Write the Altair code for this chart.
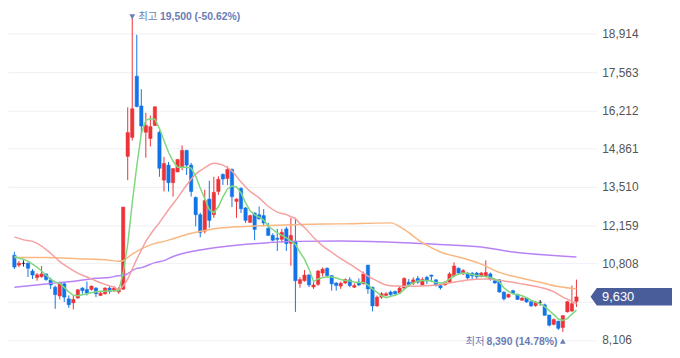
import altair as alt
import pandas as pd

# ---- daily candles (KRW), oldest first ----
opens = [11100, 10750, 10810, 10820, 10540, 10310, 10340, 10440, 10230, 9970,
         9660, 10090, 9560, 9420, 9590, 9940, 9890, 9890, 9940, 9680,
         9740, 9940, 9850, 9800, 9900, 14590, 15260, 17420, 16370, 15440,
         15220, 15680, 15440, 13750, 14280, 13660, 14040, 14220, 14800, 14280,
         13140, 12530, 11950, 13080, 12530, 13350, 13950, 13810, 14130, 13000,
         13460, 12770, 12260, 12590, 12530, 12500, 12050, 11800, 11700, 11660,
         12030, 11520, 11600, 10100, 10200, 10400, 9980, 10070, 10470, 10640,
         10380, 10120, 10010, 10120, 10230, 9970, 10150, 10090, 10750, 9970,
         9310, 9620, 9680, 9800, 9820, 9770, 9940, 10150, 10110, 10280,
         10050, 10320, 10400, 10230, 10030, 10050, 10150, 10370, 10640, 10440,
         10470, 10460, 10470, 10350, 10350, 10440, 10200, 10230, 9800, 9620,
         9850, 9720, 9510, 9590, 9460, 9320, 9440, 9350, 8990, 8660,
         8770, 8550, 9100, 9130, 9470]
highs = [11220, 10900, 10920, 10840, 10610, 10470, 10720, 10460, 10310, 10030,
         10170, 10150, 9680, 9680, 9910, 9970, 10170, 10030, 9970, 9800,
         9970, 10010, 10010, 9970, 12800, 16320, 19500, 18880, 16960, 16130,
         16030, 16360, 15500, 14570, 14390, 14170, 14490, 14980, 14820, 14360,
         13170, 12600, 13410, 13730, 13870, 13890, 13990, 14240, 14160, 13110,
         13500, 12800, 12530, 12610, 12820, 12730, 12240, 11870, 12030, 12030,
         12100, 12420, 12420, 10320, 10580, 10440, 10160, 10580, 10670, 10670,
         10400, 10150, 10170, 10280, 10320, 10110, 10280, 10520, 10760, 9990,
         9680, 9800, 9800, 9850, 9850, 10010, 10320, 10260, 10320, 10370,
         10320, 10370, 10410, 10260, 10090, 10170, 10500, 10850, 10670, 10610,
         10500, 10510, 10510, 10510, 10920, 10490, 10260, 10260, 9820, 9740,
         9880, 9740, 9620, 9600, 9490, 9490, 9520, 9390, 9000, 8870,
         8790, 8980, 9490, 10030, 10240]
lows = [10610, 10680, 10700, 10330, 10260, 10200, 10310, 10200, 9910, 9210,
        9540, 9450, 9240, 9190, 9560, 9740, 9680, 9850, 9620, 9660,
        9710, 9740, 9800, 9740, 9880, 13750, 15150, 16320, 15360, 14540,
        14940, 15660, 13870, 13350, 13350, 13170, 14030, 14100, 13930, 13170,
        12120, 11730, 11870, 12070, 12420, 13230, 13580, 13580, 12800, 12420,
        12590, 12240, 12240, 11630, 12360, 12120, 11780, 11590, 11250, 11540,
        11250, 10730, 9100, 9950, 10170, 9980, 9910, 10020, 10350, 10320,
        9850, 9850, 9910, 10090, 9970, 9940, 10010, 10070, 9740, 9120,
        9280, 9560, 9650, 9620, 9680, 9740, 9910, 10030, 10050, 10090,
        10030, 10080, 10150, 10000, 9890, 10030, 10120, 10320, 10400, 10400,
        10240, 10260, 10260, 10320, 10320, 10200, 10090, 9780, 9500, 9600,
        9720, 9520, 9490, 9420, 9280, 9280, 9320, 8970, 8590, 8620,
        8460, 8390, 9080, 9100, 9270]
closes = [10680, 10820, 10810, 10640, 10400, 10410, 10440, 10240, 10050, 9710,
          10120, 9620, 9350, 9540, 9880, 9850, 9760, 10010, 9740, 9760,
          9940, 9820, 9940, 9890, 12800, 15430, 16270, 16350, 15660, 15680,
          15640, 16340, 14170, 14340, 13660, 14160, 14480, 14800, 14280, 13350,
          12530, 11900, 13030, 12330, 13320, 13780, 13790, 14130, 13170, 13080,
          12740, 12330, 12500, 12010, 12380, 12240, 11800, 11630, 11660, 11910,
          11510, 11800, 10200, 10240, 10400, 10050, 10050, 10540, 10610, 10380,
          10090, 10030, 10110, 10240, 10030, 10030, 10050, 10440, 9910, 9310,
          9620, 9740, 9740, 9710, 9740, 9940, 10280, 10060, 10230, 10150,
          10240, 10190, 10360, 10030, 9950, 10150, 10440, 10720, 10470, 10560,
          10300, 10370, 10340, 10470, 10490, 10260, 10120, 9800, 9560, 9720,
          9750, 9540, 9590, 9450, 9310, 9440, 9440, 8980, 8630, 8830,
          8520, 8970, 9460, 9390, 9630]

# ---- moving averages ----
ma5 = [11065, 10995, 10960, 10890, 10786, 10681, 10541, 10401, 10244, 10157,
       10104, 9965, 9808, 9685, 9668, 9703, 9738, 9773, 9808, 9825,
       9832, 9842, 9842, 9842, 10480, 11484, 12950, 14250, 15396, 15868,
       15920, 15903, 15571, 15152, 14733, 14418, 14209, 14209, 14209, 14174,
       13894, 13475, 13091, 12707, 12602, 12811, 13161, 13440, 13545, 13510,
       13300, 12951, 12672, 12532, 12445, 12340, 12130, 12008, 11886, 11798,
       11711, 11606, 11484, 11205, 10960, 10611, 10174, 10262, 10314, 10332,
       10332, 10297, 10244, 10209, 10192, 10157, 10140, 10140, 10052, 9912,
       9790, 9668, 9598, 9650, 9685, 9755, 9895, 10034, 10122, 10192,
       10209, 10209, 10192, 10140, 10122, 10140, 10262, 10366, 10436, 10471,
       10454, 10419, 10384, 10366, 10349, 10314, 10262, 10157, 9947, 9825,
       9738, 9703, 9668, 9598, 9511, 9441, 9388, 9284, 9144, 9004,
       8847, 8795, 8864, 9022, 9161]
ma20_idx = [0, 2, 4, 6, 8, 10, 12, 14, 16, 18, 20, 22, 23, 24, 25, 26, 27, 28, 29, 30,
            32, 34, 36, 38, 40, 42, 44, 46, 48, 50, 52, 54, 56, 58, 60, 61, 62, 63, 64, 66,
            68, 70, 72, 74, 76, 78, 80, 82, 84, 88, 92, 96, 100, 104, 108, 112, 116, 119, 121, 123, 124]
ma20 = [11746, 11641, 11589, 11425, 11170, 10873, 10656, 10471, 10332, 10192,
        10070, 9965, 9895, 10017, 10262, 10611, 10960, 11275, 11589, 11833,
        12253, 12707, 13126, 13580, 13964, 14191, 14348, 14279, 14069, 13685,
        13353, 13126, 12829, 12619, 12532, 12462, 12392, 12218, 12078, 11729,
        11432, 11205, 10978, 10786, 10576, 10366, 10192, 10052, 10017, 10007,
        10028, 10122, 10227, 10262, 10192, 10087, 9965, 9808, 9622, 9476, 9388]
ma60_idx = [0, 7, 14, 21, 23, 24, 25, 26, 28, 31, 33, 35, 38, 42, 46, 49, 56, 63, 72, 83,
            86, 90, 94, 99, 103, 107, 111, 116, 120, 124]
ma60 = [11020, 11020, 10978, 10925, 10890, 10908, 11020, 11135, 11327, 11519,
        11589, 11683, 11833, 11973, 12067, 12102, 12148, 12183, 12207, 12242,
        12008, 11543, 11215, 10995, 10786, 10495, 10321, 10146, 9993, 9912]
ma120_idx = [0, 7, 14, 18, 21, 23, 24, 27, 28, 31, 33, 35, 38, 42, 49, 56, 62, 72, 86, 93,
             103, 110, 118, 124]
ma120 = [9972, 10087, 10202, 10286, 10314, 10377, 10384, 10635, 10663, 10838,
         10908, 11055, 11194, 11310, 11449, 11543, 11589, 11599, 11543, 11484,
         11390, 11215, 11100, 11041]

y_ticks = [8106, 9457, 10808, 12159, 13510, 14861, 16212, 17563, 18914]

# ---- styling ----
RED, BLUE, FLAT = "#ec3338", "#1274e8", "#222222"
ANN = "#6b7db4"
BADGE = "#4a5d9b"
FONT = "Liberation Sans, Noto Sans CJK KR, sans-serif"
KFONT = "Noto Sans CJK KR, Liberation Sans, sans-serif"

n = len(closes)
idx = list(range(n))
cdf = pd.DataFrame({"i": idx, "o": opens, "h": highs, "l": lows, "c": closes})
cdf["bot"] = cdf[["o", "c"]].min(axis=1)
cdf["top"] = cdf[["o", "c"]].max(axis=1)
cdf["dir"] = ["up" if c > o else ("down" if c < o else "flat") for o, c in zip(opens, closes)]

xs = alt.Scale(domain=[-0.32, 127.4], nice=False, zero=False)
ys = alt.Scale(domain=[7536.5, 19762.8], nice=False, zero=False)
X = alt.X("i:Q", scale=xs, axis=None)
yaxis = alt.Axis(orient="right", values=y_ticks,
                 labelExpr="datum.value == 9457 ? '' : format(datum.value, ',d')",
                 grid=True, gridColor="#eef0f5", gridWidth=1, domain=False, ticks=False,
                 labelPadding=5, labelFontSize=12, labelFont=FONT, labelColor="#555555",
                 title=None)


def Y(field):
    return alt.Y(field, type="quantitative", scale=ys, axis=yaxis)


dir_scale = alt.Scale(domain=["up", "down", "flat"], range=[RED, BLUE, FLAT])

wicks = alt.Chart(cdf).mark_rule(strokeWidth=1).encode(
    x=X, y=Y("l"), y2="h:Q",
    color=alt.Color("dir:N", scale=dir_scale, legend=None))
bodies = alt.Chart(cdf).mark_bar(size=3.4, strokeWidth=0.5).encode(
    x=X, y=Y("bot"), y2="top:Q",
    color=alt.Color("dir:N", scale=dir_scale, legend=None),
    stroke=alt.Stroke("dir:N", scale=dir_scale, legend=None))


def ma_line(ix, vals, col, interp):
    d = pd.DataFrame({"i": ix, "v": vals})
    return alt.Chart(d).mark_line(strokeWidth=1.5, color=col, interpolate=interp).encode(
        x=X, y=Y("v"))


l120 = ma_line(ma120_idx, ma120, "#b882f6", "monotone")
l60 = ma_line(ma60_idx, ma60, "#f9b882", "monotone")
l20 = ma_line(ma20_idx, ma20, "#f6a0a0", "monotone")
l5 = ma_line(idx, ma5, "#7fd87f", "linear")

# ---- high / low annotations ----
hi = max(highs)
lo = min(lows)
hi_i = highs.index(hi)
lo_i = lows.index(lo)
last = closes[-1]
hi_df = pd.DataFrame({"i": [hi_i], "t": [f"{hi:,} ({(last / hi - 1) * 100:.2f}%)"]})
lo_df = pd.DataFrame({"i": [lo_i], "t": [f"{lo:,} ({(last / lo - 1) * 100:.2f}%)"]})

TOP_Y = 7.5
hi_tri = alt.Chart(hi_df).mark_point(shape="triangle-down", filled=True, size=34,
                                     color=ANN, opacity=1).encode(x=X, y=alt.value(TOP_Y - 0.5))
hi_word = alt.Chart(hi_df).mark_text(align="left", baseline="middle", dx=6, fontSize=10.5,
                                     font=KFONT, color=ANN).encode(
    x=X, y=alt.value(TOP_Y), text=alt.value("최고"))
hi_num = alt.Chart(hi_df).mark_text(align="left", baseline="middle", dx=28, fontSize=10.5,
                                    font=FONT, fontWeight="bold", color=ANN).encode(
    x=X, y=alt.value(TOP_Y), text="t:N")

lo_tri = alt.Chart(lo_df).mark_point(shape="triangle-up", filled=True, size=34,
                                     color=ANN, opacity=1).encode(x=X, y=alt.value(335))
lo_num = alt.Chart(lo_df).mark_text(align="right", baseline="middle", dx=-5.5, fontSize=10.5,
                                    font=FONT, fontWeight="bold", color=ANN).encode(
    x=X, y=alt.value(335.3), text="t:N")
lo_word = alt.Chart(lo_df).mark_text(align="right", baseline="middle", dx=-79, fontSize=10.5,
                                     font=KFONT, color=ANN).encode(
    x=X, y=alt.value(335.3), text=alt.value("최저"))

# ---- current price badge ----
badge_df = pd.DataFrame({"p": [last], "t": [f"{last:,}"]})
BADGE_PATH = "M -1 0 L -0.847 -0.215 L 1 -0.215 L 1 0.215 L -0.847 0.215 Z"
badge = alt.Chart(badge_df).mark_point(shape=BADGE_PATH, filled=True, size=82.3 ** 2,
                                       color=BADGE, opacity=1, strokeWidth=0).encode(
    x=alt.value(629.85), y=Y("p"))
badge_txt = alt.Chart(badge_df).mark_text(align="left", baseline="middle", fontSize=13,
                                          font=FONT, color="white").encode(
    x=alt.value(600.3), y=Y("p"), text="t:N")

chart = alt.layer(
    wicks, bodies, l120, l60, l20, l5,
    hi_tri, hi_word, hi_num, lo_tri, lo_num, lo_word,
    badge, badge_txt,
).properties(
    width=595, height=350,
    padding={"left": 0, "top": 0, "right": 76, "bottom": 0},
    autosize=alt.AutoSizeParams(type="none"),
    background="white",
).configure_view(strokeWidth=0)

chart.save("out.html", embed_options={"renderer": "svg", "actions": False})
